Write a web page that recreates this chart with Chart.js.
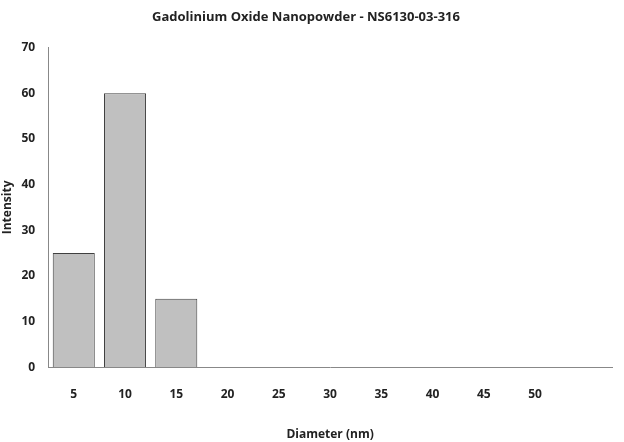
<!DOCTYPE html>
<html><head><meta charset="utf-8">
<script src="https://cdn.jsdelivr.net/npm/chart.js@4"></script>
<style>html,body{margin:0;padding:0;background:#fff}#w{width:624px;height:442px}</style>
</head><body><div id="w"><canvas id="c"></canvas></div>
<script>
const categories=["5","10","15","20","25","30","35","40","45","50",""];
const intensity=[25,60,15,0,0,0,0,0,0,0,0];
const yTicks=[0,10,20,30,40,50,60,70];
new Chart(document.getElementById('c'),{
type:'bar',
data:{labels:categories,datasets:[{data:intensity,backgroundColor:'#c0c0c0',borderColor:'#404040',borderWidth:1,categoryPercentage:1,barPercentage:0.82}]},
options:{responsive:true,maintainAspectRatio:false,animation:false,
layout:{padding:{left:0,right:12,top:5,bottom:0}},
plugins:{legend:{display:false},
title:{display:true,text:'Gadolinium Oxide Nanopowder - NS6130-03-316',font:{family:'Open Sans',size:13,weight:'bold'},color:'#222',padding:{top:4,bottom:23}}},
scales:{
x:{grid:{display:false,drawTicks:false},border:{color:'#888'},ticks:{color:'#222',font:{family:'Open Sans',size:12,weight:'bold'},padding:20},
title:{display:true,text:'Diameter (nm)',font:{family:'Open Sans',size:12,weight:'bold'},color:'#222',padding:{top:6,bottom:0}}},
y:{min:0,max:70,grid:{display:false},border:{color:'#888'},
afterBuildTicks:a=>{a.ticks=yTicks.map(v=>({value:v}))},
ticks:{color:'#222',font:{family:'Open Sans',size:12,weight:'bold'},padding:5},
title:{display:true,text:'Intensity',font:{family:'Open Sans',size:12,weight:'bold'},color:'#222',padding:{top:0,bottom:2}}}
}}});
</script></body></html>
